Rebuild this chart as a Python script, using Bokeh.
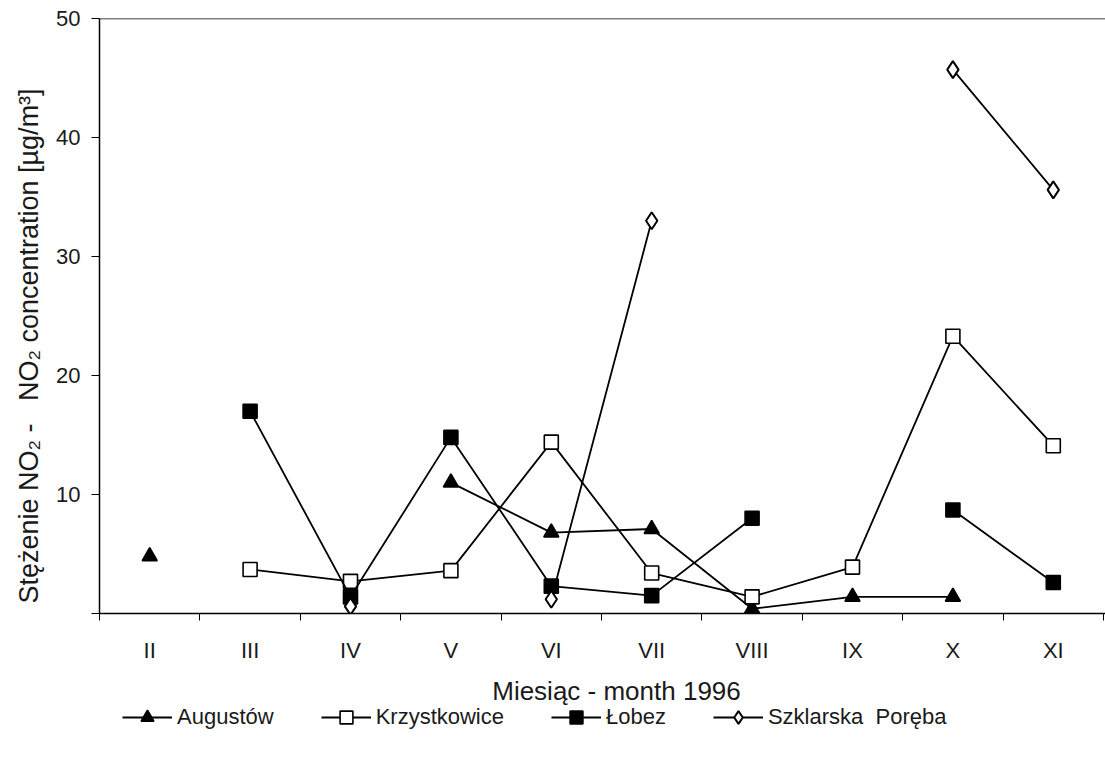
import numpy as np
from bokeh.plotting import figure
from bokeh.layouts import column
from bokeh.models import FixedTicker, Legend, LegendItem, Span, ColumnDataSource, Label
from bokeh.embed import file_html
from bokeh.resources import INLINE

nan = np.nan
months = ["II", "III", "IV", "V", "VI", "VII", "VIII", "IX", "X", "XI"]
augustow = [4.8, nan, nan, 11.0, 6.8, 7.1, 0.4, 1.4, 1.4, nan]
krzystkowice = [nan, 3.7, 2.7, 3.6, 14.4, 3.4, 1.4, 3.9, 23.3, 14.1]
lobez = [nan, 17.0, 1.4, 14.8, 2.3, 1.5, 8.0, nan, 8.7, 2.6]
szklarska = [nan, nan, 0.6, nan, 1.2, 33.0, nan, nan, 45.7, 35.6]
series_names = ["Augustów", "Krzystkowice", "Łobez", "Szklarska\u00a0 Poręba"]
y_ticks = [0, 10, 20, 30, 40, 50]
x_title = "Miesiąc - month 1996"
y_title = "Stężenie NO₂ -\u00a0\u00a0\u00a0NO₂ concentration [µg/m³]" + "\u00a0" * 8

FONT = "Liberation Sans"
TXT = "#1a1a1a"

xs = list(range(1, len(months) + 1))

p = figure(width=1105, height=665, output_backend="svg", toolbar_location=None,
           x_range=(0.5, 10.52), y_range=(0, 50),
           min_border_left=99, min_border_right=0, min_border_top=18, min_border_bottom=52)
p.outline_line_color = None
p.grid.visible = False
p.background_fill_color = "white"
p.border_fill_color = "white"

# X axis
p.xaxis.ticker = FixedTicker(ticks=xs, minor_ticks=[x - 0.5 for x in xs] + [xs[-1] + 0.5])
p.xaxis.major_label_overrides = {x: m for x, m in zip(xs, months)}
p.xaxis.major_tick_out = 0
p.xaxis.major_tick_in = 0
p.xaxis.minor_tick_out = 7
p.xaxis.minor_tick_in = 0
p.xaxis.major_label_standoff = 17

# Y axis
p.yaxis.ticker = FixedTicker(ticks=y_ticks)
p.yaxis.major_label_overrides = {0: ""}
p.yaxis.major_tick_out = 8
p.yaxis.major_tick_in = 0
p.yaxis.minor_tick_out = 0
p.yaxis.minor_tick_in = 0
p.yaxis.major_label_standoff = 11
p.yaxis.axis_label = y_title
p.yaxis.axis_label_standoff = 9

for ax in (p.xaxis, p.yaxis):
    ax.axis_line_color = "black"
    ax.axis_line_width = 1.5
    ax.major_tick_line_color = "black"
    ax.minor_tick_line_color = "black"
    ax.major_label_text_font = FONT
    ax.major_label_text_font_size = "22px"
    ax.major_label_text_color = TXT
    ax.axis_label_text_font = FONT
    ax.axis_label_text_font_size = "27px"
    ax.axis_label_text_font_style = "normal"
    ax.axis_label_text_color = TXT

p.add_layout(Span(location=50, dimension="width", line_color="black", line_width=1.5))

# strip below: x axis title and legend (its frame is aligned with the main frame)
pl = figure(width=1105, height=94, output_backend="svg", toolbar_location=None,
            x_range=(100, 101), y_range=(100, 101),
            x_axis_location=None, y_axis_location=None,
            min_border_left=0, min_border_right=0, min_border_top=0, min_border_bottom=0)
pl.outline_line_color = None
pl.grid.visible = False
pl.border_fill_color = "white"
pl.background_fill_color = "white"

pl.add_layout(Label(x=517, y=69, x_units="screen", y_units="screen", text=x_title,
                    text_align="center", text_baseline="middle", text_font=FONT,
                    text_font_size="26px", text_color=TXT))

specs = [
    (augustow, "triangle", "black", 15, 1.6),
    (krzystkowice, "square", "white", 14, 1.6),
    (lobez, "square", "black", 14, 1.6),
    (szklarska, "diamond", "white", 17, 2.0),
]

items = []
for name, (vals, marker, fill, size, lw) in zip(series_names, specs):
    src = ColumnDataSource(dict(x=xs, y=vals))
    for fig in (p, pl):
        r1 = fig.line("x", "y", source=src, line_color="black", line_width=1.8)
        r2 = fig.scatter("x", "y", source=src, marker=marker, size=size,
                         fill_color=fill, line_color="black", line_width=lw)
    items.append(LegendItem(label=name, renderers=[r1, r2]))

legend = Legend(items=items, orientation="horizontal", location=(23, 26),
                glyph_width=50, glyph_height=32, label_height=30, label_standoff=5, spacing=47,
                padding=0, margin=0, border_line_color=None, background_fill_alpha=0,
                label_text_font=FONT, label_text_font_size="22px", label_text_color=TXT)
pl.add_layout(legend, "center")

layout = column(p, pl, spacing=0)
open("out.html", "w").write(file_html(layout, INLINE))
